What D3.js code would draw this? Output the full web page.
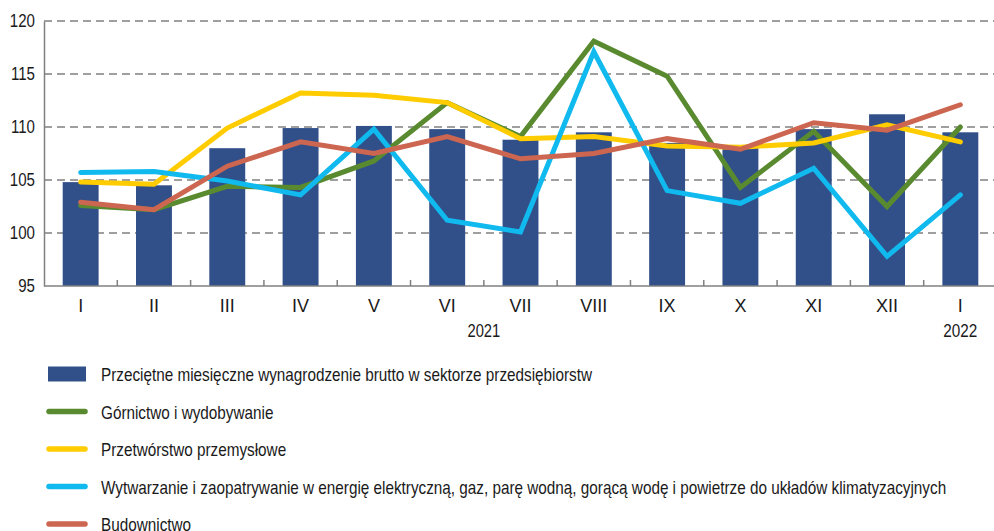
<!DOCTYPE html>
<html>
<head>
<meta charset="utf-8">
<script src="https://cdn.jsdelivr.net/npm/d3@7"></script>
<style>
  body { margin: 0; background: #fff; }
  svg text { font-family: "Liberation Sans", Arial, sans-serif; fill: #1a1a1a; }
</style>
</head>
<body>
<div id="wrapper"></div>
<script>
const months = ["I", "II", "III", "IV", "V", "VI", "VII", "VIII", "IX", "X", "XI", "XII", "I "]
const monthLabels = ["I", "II", "III", "IV", "V", "VI", "VII", "VIII", "IX", "X", "XI", "XII", "I"]
const yTicks = [95, 100, 105, 110, 115, 120]

const wages = [104.8, 104.5, 108.0, 109.9, 110.1, 109.8, 108.8, 109.5, 108.5, 108.2, 109.8, 111.2, 109.5]
const mining = [102.6, 102.2, 104.4, 104.3, 106.8, 112.3, 109.1, 118.1, 114.8, 104.3, 109.6, 102.5, 110.0]
const manufacturing = [104.8, 104.6, 109.9, 113.2, 113.0, 112.3, 108.9, 109.1, 108.2, 108.1, 108.5, 110.2, 108.6]
const energy = [105.7, 105.8, 104.9, 103.6, 109.8, 101.2, 100.1, 117.1, 104.0, 102.8, 106.1, 97.8, 103.6]
const construction = [102.9, 102.2, 106.3, 108.6, 107.5, 109.1, 107.0, 107.5, 108.9, 107.9, 110.4, 109.7, 112.1]

const barLabel = "Przeciętne miesięczne wynagrodzenie brutto w sektorze przedsiębiorstw"
const lineSeries = [
  { name: "Górnictwo i wydobywanie", values: mining, color: "#5a8a2f" },
  { name: "Przetwórstwo przemysłowe", values: manufacturing, color: "#ffcc00" },
  { name: "Wytwarzanie i zaopatrywanie w energię elektryczną, gaz, parę wodną, gorącą wodę i powietrze do układów klimatyzacyjnych", values: energy, color: "#10b9ee" },
  { name: "Budownictwo", values: construction, color: "#cc6650" },
]

// narrow-looking text: squeeze horizontally around its anchor point
function squeezed(parent, x, y, sx, txt) {
  return parent.append("text")
    .attr("transform", `translate(${x},${y}) scale(${sx},1)`)
    .style("font-size", "18px")
    .text(txt)
}

function drawChart() {
  const dms = {
    width: 994,
    height: 531,
    margin: { top: 21, right: -3, bottom: 245, left: 44 },
  }
  dms.boundedWidth = dms.width - dms.margin.left - dms.margin.right
  dms.boundedHeight = dms.height - dms.margin.top - dms.margin.bottom

  const wrapper = d3.select("#wrapper")
    .append("svg")
    .attr("width", dms.width)
    .attr("height", dms.height)

  const bounds = wrapper.append("g")
    .attr("transform", `translate(${dms.margin.left},${dms.margin.top})`)

  const xScale = d3.scaleBand()
    .domain(months)
    .range([0, dms.boundedWidth])

  const yScale = d3.scaleLinear()
    .domain([95, 120])
    .range([dms.boundedHeight, 0])

  // dashed grid
  bounds.append("g")
    .selectAll("line")
    .data(yTicks.filter(d => d > 95))
    .join("line")
    .attr("x1", 0)
    .attr("x2", dms.width - dms.margin.left)
    .attr("y1", d => yScale(d))
    .attr("y2", d => yScale(d))
    .attr("stroke", "#808080")
    .attr("stroke-width", 1.5)
    .attr("stroke-dasharray", "8,5")

  // bars
  const barW = xScale.bandwidth() * 0.49
  bounds.append("g")
    .selectAll("rect")
    .data(wages)
    .join("rect")
    .attr("x", (d, i) => xScale(months[i]) + (xScale.bandwidth() - barW) / 2)
    .attr("y", d => yScale(d))
    .attr("width", barW)
    .attr("height", d => dms.boundedHeight - yScale(d))
    .attr("fill", "#31508a")

  // lines
  const lineGen = d3.line()
    .x((d, i) => xScale(months[i]) + xScale.bandwidth() / 2)
    .y(d => yScale(d))

  bounds.append("g")
    .selectAll("path")
    .data(lineSeries)
    .join("path")
    .attr("d", d => lineGen(d.values))
    .attr("fill", "none")
    .attr("stroke", d => d.color)
    .attr("stroke-width", 5)
    .attr("stroke-linejoin", "miter")
    .attr("stroke-linecap", "round")

  // axes
  const xAxisGenerator = d3.axisBottom()
    .scale(xScale)
    .tickSize(0)
    .tickPadding(13)
    .tickFormat((d, i) => monthLabels[i])

  const xAxis = bounds.append("g")
    .attr("transform", `translate(0,${dms.boundedHeight})`)
    .call(xAxisGenerator)
  xAxis.select(".domain").remove()
  xAxis.selectAll("text")
    .style("font-size", "18px")
    .attr("fill", "#1a1a1a")

  // small tick marks at category boundaries
  bounds.append("g")
    .selectAll("line")
    .data(months.slice(1))
    .join("line")
    .attr("x1", d => xScale(d))
    .attr("x2", d => xScale(d))
    .attr("y1", dms.boundedHeight)
    .attr("y2", dms.boundedHeight - 6)
    .attr("stroke", "#808080")
    .attr("stroke-width", 1.5)

  bounds.append("line")
    .attr("x1", 0)
    .attr("x2", dms.boundedWidth)
    .attr("y1", dms.boundedHeight)
    .attr("y2", dms.boundedHeight)
    .attr("stroke", "#808080")
    .attr("stroke-width", 1.5)

  const ySx = 0.84
  const yAxisGenerator = d3.axisLeft()
    .scale(yScale)
    .tickValues(yTicks)
    .tickSize(0)
    .tickPadding(9)

  const yAxis = bounds.append("g")
    .call(yAxisGenerator)
  yAxis.select(".domain")
    .attr("stroke", "#808080")
    .attr("stroke-width", 1.5)
  yAxis.selectAll("text")
    .style("font-size", "18px")
    .attr("fill", "#1a1a1a")
    .attr("x", -9 / ySx)
    .attr("transform", `scale(${ySx},1)`)

  // year labels
  const midYear = (xScale(months[0]) + xScale(months[11]) + xScale.bandwidth()) / 2
  squeezed(bounds, midYear, dms.boundedHeight + 51, 0.82, "2021")
    .attr("text-anchor", "middle")
  squeezed(bounds, xScale(months[12]) + xScale.bandwidth() / 2, dms.boundedHeight + 51, 0.85, "2022")
    .attr("text-anchor", "middle")

  // legend
  const legend = wrapper.append("g")
  const rowY = d3.scalePoint()
    .domain(d3.range(5))
    .range([374, 524])
  const legSx = 0.85

  legend.append("rect")
    .attr("x", 48)
    .attr("y", rowY(0) - 7.5)
    .attr("width", 38)
    .attr("height", 15)
    .attr("fill", "#31508a")
  squeezed(legend, 101, rowY(0) + 7, legSx, barLabel)

  lineSeries.forEach((s, i) => {
    legend.append("line")
      .attr("x1", 49)
      .attr("x2", 85)
      .attr("y1", rowY(i + 1))
      .attr("y2", rowY(i + 1))
      .attr("stroke", s.color)
      .attr("stroke-width", 5.5)
      .attr("stroke-linecap", "round")
    squeezed(legend, 101, rowY(i + 1) + 7, legSx, s.name)
  })
}

drawChart()
</script>
</body>
</html>
